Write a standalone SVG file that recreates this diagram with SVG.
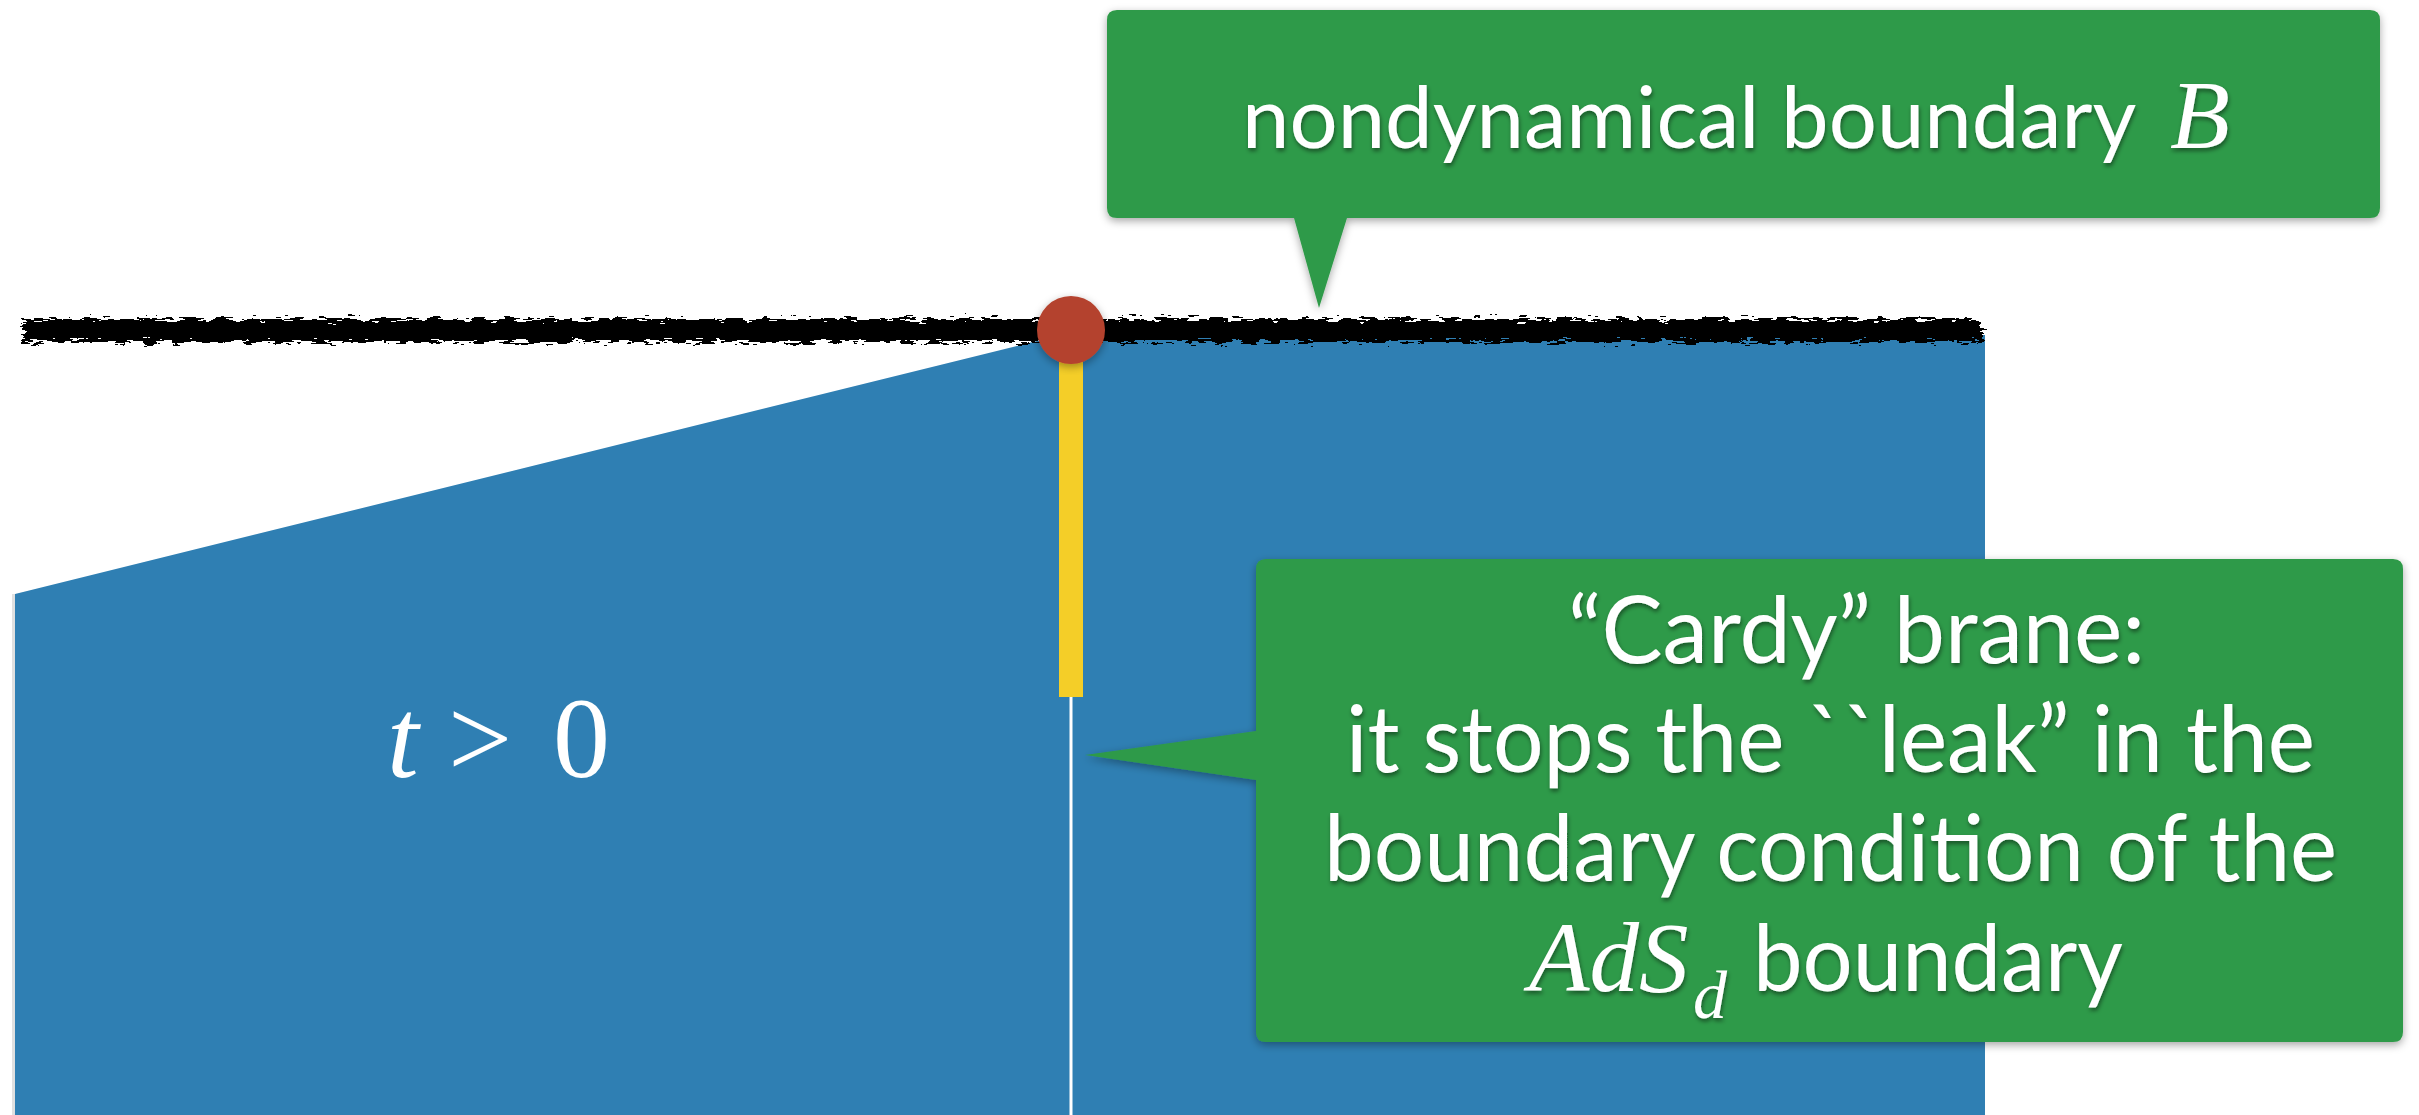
<svg xmlns="http://www.w3.org/2000/svg" width="2419" height="1115" viewBox="0 0 2419 1115">
  <defs>
    <style>
      .sans { font-family: Lato, "Open Sans", "Liberation Sans", sans-serif; fill: #ffffff; font-size: 93px; font-style: normal; }
      .math { font-family: "Liberation Serif", "Times New Roman", serif; fill: #ffffff; font-style: italic; }
      .callout { fill: #2f9a48; }
    </style>
    <filter id="rough" x="-2%" y="-150%" width="104%" height="400%">
      <feTurbulence type="fractalNoise" baseFrequency="0.07 0.35" numOctaves="3" seed="7" result="n"/>
      <feDisplacementMap in="SourceGraphic" in2="n" scale="16" xChannelSelector="R" yChannelSelector="G"/>
    </filter>
    <filter id="boxShadow" x="-5%" y="-10%" width="110%" height="125%">
      <feDropShadow dx="0" dy="3" stdDeviation="4" flood-color="#000" flood-opacity="0.35"/>
    </filter>
    <filter id="txtShadow" x="-5%" y="-20%" width="110%" height="150%">
      <feDropShadow dx="1" dy="3" stdDeviation="2" flood-color="#000" flood-opacity="0.45"/>
    </filter>
  </defs>

  <rect width="2419" height="1115" fill="#ffffff"/>

  <g id="bulk">
    <polygon points="15,594 1045,339 1045,335 1985,335 1985,1115 15,1115" fill="#2f7fb3"/>
    <rect x="12" y="594" width="3" height="521" fill="#000" opacity="0.12"/>
    <text y="777" font-family="Liberation Serif, serif" font-size="114" fill="#fff"><tspan x="387" font-style="italic">t</tspan><tspan x="448">&gt;</tspan><tspan x="553">0</tspan></text>
  </g>

  <g id="connectors">
    <rect id="cut" x="1069.5" y="697" width="3" height="418" fill="#ffffff"/>
    <rect id="brane" x="1059" y="358" width="24" height="339" fill="#f4ce28"/>
  </g>

  <g id="boundary-line">
    <rect x="23" y="319" width="1959" height="23" fill="#000" filter="url(#rough)"/>
  </g>

  <g id="endpoint">
    <circle cx="1071" cy="330" r="34" fill="#b4432f" filter="url(#boxShadow)"/>
  </g>

  <g id="callout-boundary">
    <path class="callout" filter="url(#boxShadow)" d="M1117,10 H2370 Q2380,10 2380,20 V208 Q2380,218 2370,218 H1347 L1319,308 L1294,218 H1117 Q1107,218 1107,208 V20 Q1107,10 1117,10 Z"/>
    <g filter="url(#txtShadow)">
      <text y="148"><tspan class="sans" x="1242" style="font-size:85px">nondynamical boundary</tspan><tspan class="math" x="2170" font-size="98">B</tspan></text>
    </g>
  </g>

  <g id="callout-cardy">
    <path class="callout" filter="url(#boxShadow)" d="M1266,559 H2393 Q2403,559 2403,569 V1032 Q2403,1042 2393,1042 H1266 Q1256,1042 1256,1032 V780 L1085,755 L1256,731 V569 Q1256,559 1266,559 Z"/>
    <g filter="url(#txtShadow)">
      <text class="sans" x="1568" y="663" textLength="577" lengthAdjust="spacingAndGlyphs">“Cardy” brane:</text>
      <text class="sans" x="1346" y="772" textLength="969" lengthAdjust="spacingAndGlyphs">it stops the ``leak” in the</text>
      <text class="sans" x="1324" y="881" textLength="1013" lengthAdjust="spacingAndGlyphs">boundary condition of the</text>
      <text y="991"><tspan class="math" x="1529" font-size="99">AdS</tspan><tspan class="math" x="1693" y="1018" font-size="68">d</tspan><tspan class="sans" x="1753" y="991" textLength="370" lengthAdjust="spacingAndGlyphs">boundary</tspan></text>
    </g>
  </g>
</svg>
